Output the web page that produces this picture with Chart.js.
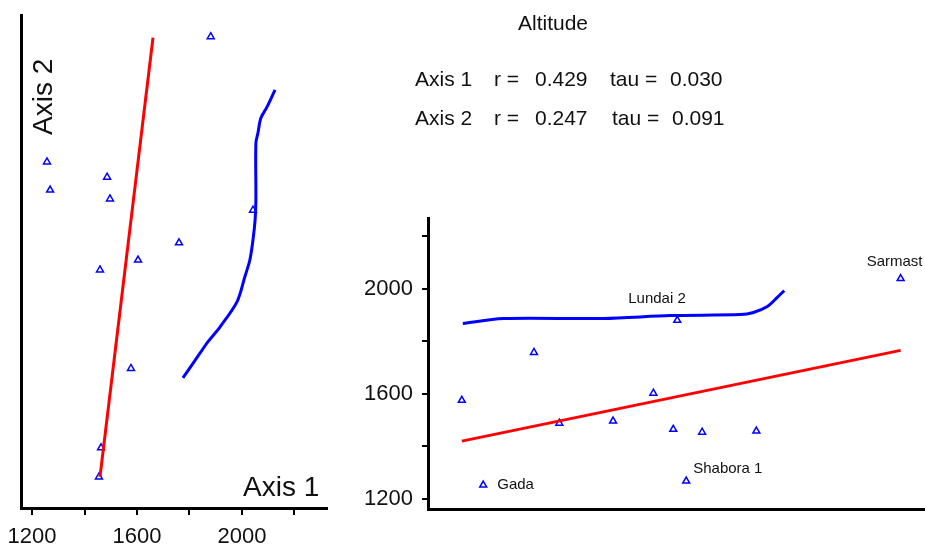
<!DOCTYPE html>
<html>
<head>
<meta charset="utf-8">
<script src="https://cdn.jsdelivr.net/npm/chart.js@4"></script>
<style>
  body { margin: 0; background: #fff; width: 925px; height: 548px; position: relative; overflow: hidden;
         font-family: "Liberation Sans", Arial, sans-serif; color: #111; }
  canvas { position: absolute; top: 0; }
  #leftChart { left: 0; }
  #rightChart { left: 340px; }
  .txt { position: absolute; line-height: 1; white-space: nowrap; }
  .row { font-size: 21px; }
</style>
</head>
<body>
<canvas id="leftChart" width="340" height="548"></canvas>
<canvas id="rightChart" width="591" height="548"></canvas>

<div class="txt" style="left:29px; top:135px; font-size:28px; transform-origin:0 0; transform:rotate(-90deg);">Axis 2</div>
<div class="txt" style="left:243px; top:473px; font-size:28px;">Axis 1</div>

<div class="txt" style="left:518px; top:12px; font-size:21px;">Altitude</div>
<div class="txt row" style="left:415px; top:68px;">Axis 1</div>
<div class="txt row" style="left:494px; top:68px;">r =</div>
<div class="txt row" style="left:535px; top:68px;">0.429</div>
<div class="txt row" style="left:610px; top:68px;">tau =</div>
<div class="txt row" style="left:670px; top:68px;">0.030</div>
<div class="txt row" style="left:415px; top:107px;">Axis 2</div>
<div class="txt row" style="left:494px; top:107px;">r =</div>
<div class="txt row" style="left:535px; top:107px;">0.247</div>
<div class="txt row" style="left:612px; top:107px;">tau =</div>
<div class="txt row" style="left:672px; top:107px;">0.091</div>

<script>
// left panel: sites on the ordination, altitude along x
const leftAlt   = [1881, 1257, 1269, 1486, 1497, 1760, 2042, 1604, 1459, 1577, 1463, 1455];
const leftAxis2 = [95.6, 70.2, 64.5, 67.1, 62.7, 53.8, 60.4, 50.3, 48.3, 28.3, 12.2, 6.3];
const leftLineX = [1459, 1661];
const leftLineY = [6.3, 95.4];
const leftCurveX = [1775, 1840, 1870, 1916, 1981, 2011, 2030, 2042, 2050, 2053, 2053, 2061, 2072, 2095, 2126];
const leftCurveY = [26.4, 31.4, 33.7, 36.7, 41.8, 46.9, 50.3, 54.4, 58.4, 62.5, 74.0, 76.1, 79.1, 81.3, 84.8];

// right panel: altitude along y
const rightAxis = [95.0, 50.1, 21.3, 6.8, 26.4, 37.2, 45.3, 49.3, 55.1, 66.0, 51.9, 11.1];
const rightAlt  = [2038, 1879, 1757, 1575, 1488, 1496, 1602, 1465, 1454, 1458, 1268, 1253];
const rightNames = ['Sarmast', 'Lundai 2', '', '', '', '', '', '', '', '', 'Shabora 1', 'Gada'];
const rightLineX = [6.8, 95.0];
const rightLineY = [1420, 1765];
const rightCurveX = [7.0, 15.1, 35.2, 48.7, 62.8, 65.4, 68.2, 70.2, 71.6];
const rightCurveY = [1867, 1886, 1886, 1897, 1901, 1909, 1932, 1966, 1992];

const altTicks = [1200, 1400, 1600, 1800, 2000, 2200];
const altLabels = [1200, 1600, 2000];

const FONT = '"Liberation Sans", Arial, sans-serif';
const BLUE = '#0000ff';
const RED = '#ff0000';

function pts(xs, ys) {
    return xs.map((x, i) => ({ x: x, y: ys[i] }));
}

function altTicksSetup(scale) {
    scale.ticks = altTicks.map(v => ({ value: v }));
}

function altLabel(value) {
    return altLabels.includes(value) ? String(value) : '';
}

const markerStyle = {
    showLine: false,
    pointStyle: 'triangle',
    pointRadius: 4,
    pointBorderWidth: 1.5,
    pointBorderColor: BLUE,
    pointBackgroundColor: '#fff'
};

function lineStyle(color) {
    return { showLine: true, borderColor: color, borderWidth: 3, pointRadius: 0, fill: false };
}

// left chart
new Chart(document.getElementById('leftChart'), {
    type: 'scatter',
    data: {
        datasets: [
            Object.assign({ data: pts(leftLineX, leftLineY) }, lineStyle(RED)),
            Object.assign({ data: pts(leftCurveX, leftCurveY), tension: 0.3 }, lineStyle(BLUE)),
            Object.assign({ data: pts(leftAlt, leftAxis2) }, markerStyle)
        ]
    },
    options: {
        responsive: false,
        animation: false,
        layout: { padding: { top: 15, right: 13, left: 0, bottom: 0 } },
        plugins: { legend: { display: false }, tooltip: { enabled: false } },
        scales: {
            x: {
                type: 'linear',
                min: 1158,
                max: 2324,
                afterBuildTicks: altTicksSetup,
                afterFit: s => { s.height = 40; s.paddingLeft = 0; s.paddingRight = 0; },
                ticks: { callback: altLabel, autoSkip: false, maxRotation: 0, padding: 9,
                         color: '#111', font: { family: FONT, size: 22 } },
                grid: { drawOnChartArea: false, drawTicks: true, tickLength: 7, color: '#000', lineWidth: 2 },
                border: { display: true, color: '#000', width: 3 }
            },
            y: {
                type: 'linear',
                min: 0,
                max: 100,
                afterFit: s => { s.width = 21; },
                ticks: { display: false },
                grid: { drawOnChartArea: false, drawTicks: false },
                border: { display: true, color: '#000', width: 3 }
            }
        }
    }
});

// names next to some sites in the right panel
const nameOffsets = {
    'Sarmast': [-34, -17],
    'Lundai 2': [-49, -21],
    'Shabora 1': [7, -12],
    'Gada': [14, 0]
};

const siteNames = {
    id: 'siteNames',
    afterDatasetsDraw(chart) {
        const ctx = chart.ctx;
        const meta = chart.getDatasetMeta(2);
        ctx.save();
        ctx.font = '15px ' + FONT;
        ctx.fillStyle = '#111';
        ctx.textAlign = 'left';
        ctx.textBaseline = 'middle';
        meta.data.forEach((p, i) => {
            const name = rightNames[i];
            if (!name) return;
            const off = nameOffsets[name];
            ctx.fillText(name, p.x + off[0], p.y + off[1]);
        });
        ctx.restore();
    }
};

// right chart (canvas runs a few px past the window so the plot reaches the edge)
new Chart(document.getElementById('rightChart'), {
    type: 'scatter',
    data: {
        datasets: [
            Object.assign({ data: pts(rightLineX, rightLineY) }, lineStyle(RED)),
            Object.assign({ data: pts(rightCurveX, rightCurveY), tension: 0.3 }, lineStyle(BLUE)),
            Object.assign({ data: pts(rightAxis, rightAlt) }, markerStyle)
        ]
    },
    options: {
        responsive: false,
        animation: false,
        layout: { padding: { top: 218, right: 0, left: 0, bottom: 0 } },
        plugins: { legend: { display: false }, tooltip: { enabled: false } },
        scales: {
            x: {
                type: 'linear',
                min: 0,
                max: 100,
                afterFit: s => { s.height = 39; },
                ticks: { display: false },
                grid: { drawOnChartArea: false, drawTicks: false },
                border: { display: true, color: '#000', width: 3 }
            },
            y: {
                type: 'linear',
                min: 1162,
                max: 2268,
                afterBuildTicks: altTicksSetup,
                afterFit: s => { s.width = 88; },
                ticks: { callback: altLabel, autoSkip: false, padding: 9,
                         color: '#111', font: { family: FONT, size: 22 } },
                grid: { drawOnChartArea: false, drawTicks: true, tickLength: 6, color: '#000', lineWidth: 2 },
                border: { display: true, color: '#000', width: 3 }
            }
        }
    },
    plugins: [siteNames]
});
</script>
</body>
</html>
